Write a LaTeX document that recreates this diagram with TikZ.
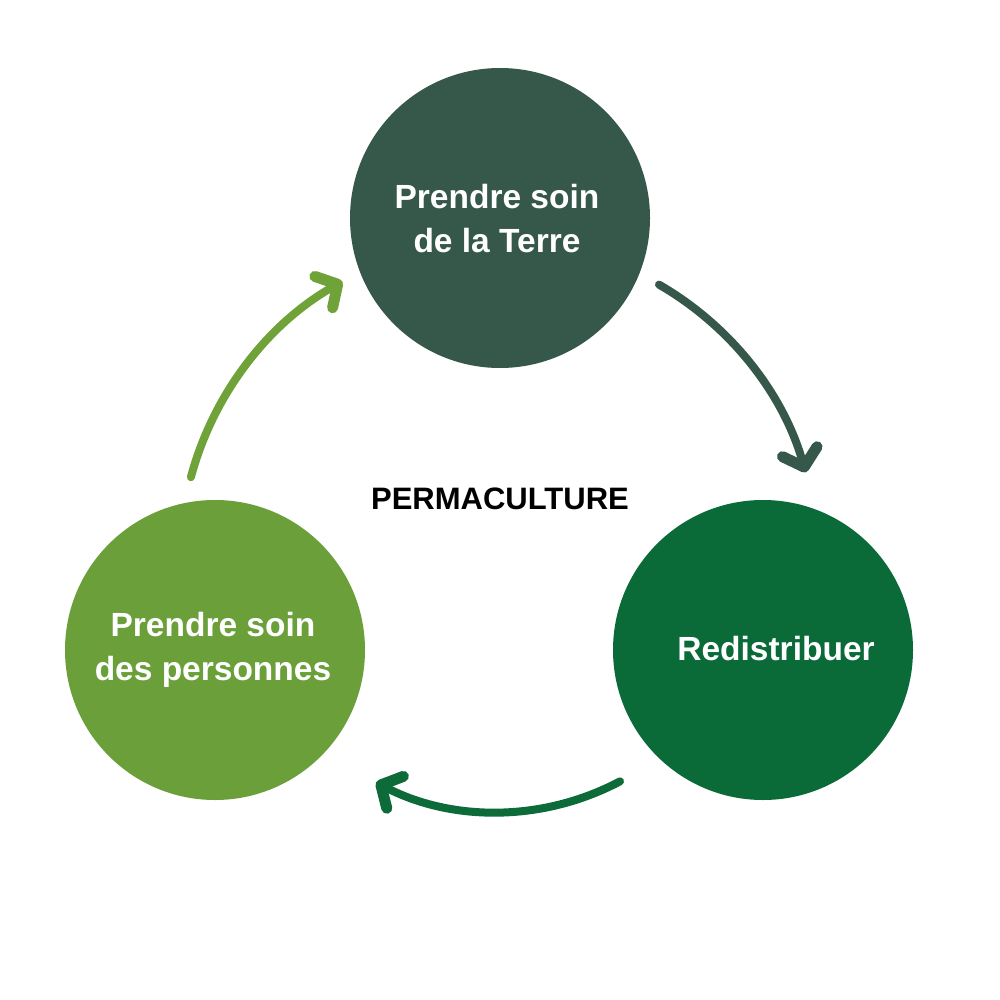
\documentclass[tikz,border=0pt]{standalone}
\usepackage{fontspec}
\setmainfont{Liberation Sans}
\usetikzlibrary{arrows.meta,calc}
\definecolor{cTop}{HTML}{35584A}
\definecolor{cRight}{HTML}{0A6A38}
\definecolor{cLeft}{HTML}{6A9F3A}
\definecolor{aLeft}{HTML}{6FA33A}
\definecolor{aBot}{HTML}{0D6B3A}
\tikzset{
  bubble/.style={circle, minimum size=300pt, inner sep=0pt},
  lbl/.style={text=white, font=\bfseries\fontsize{33.5}{44}\selectfont, align=center},
  flow/.style={line width=8pt, line cap=round,
    -{Straight Barb[length=16pt,width=36pt,line width=11pt,line cap=round,line join=round]}},
}
\begin{document}
\begin{tikzpicture}[x=1pt,y=-1pt]
\useasboundingbox[fill=white] (0,0) rectangle (1000,1000);
\node[bubble, fill=cTop] (top) at (500,218) {};
\node[bubble, fill=cRight] (right) at (763,650) {};
\node[bubble, fill=cLeft] (left) at (215,650) {};
\node[lbl] (tt) at (497,219) {Prendre soin\\de la Terre};
\node[lbl] (rt) at (776,649) {Redistribuer};
\node[lbl] (lt) at (213,650) {Prendre soin\\des personnes};
\node[font=\bfseries\fontsize{31}{36}\selectfont] (pm) at (500,499) {PERMACULTURE};
\coordinate (s1) at ($(500,560)+(-60:318)$);
\coordinate (s2) at ($(497,550)+(62:262)$);
\coordinate (s3) at ($(500,560)+(-165:320)$);
\draw[flow, draw=cTop] (s1) arc[start angle=-60, end angle=-16, radius=318];
\draw[flow, draw=aBot] (s2) arc[start angle=62, end angle=117.5, radius=262];
\draw[flow, draw=aLeft] (s3) arc[start angle=-165, end angle=-119.5, radius=320];
\end{tikzpicture}
\end{document}
